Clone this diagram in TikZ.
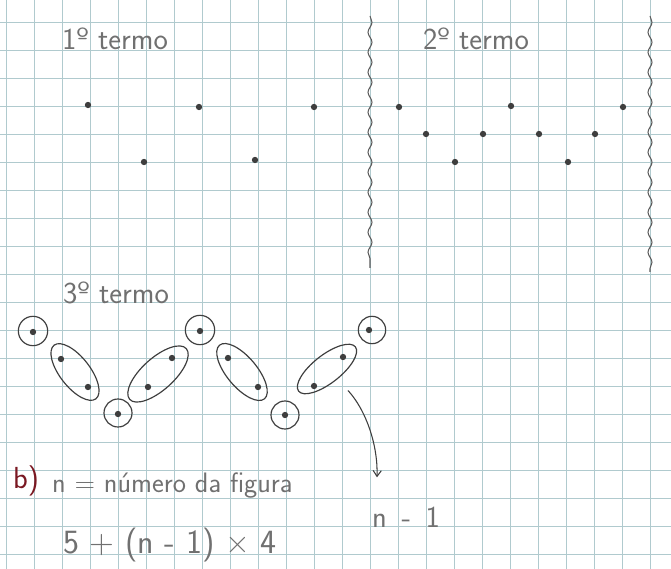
\documentclass[tikz,border=0pt]{standalone}
\usepackage{tikz}
\usetikzlibrary{shapes.geometric,arrows.meta,decorations.pathmorphing}
\definecolor{gridblue}{RGB}{176,202,206}
\definecolor{pencil}{RGB}{112,112,112}
\definecolor{lead}{RGB}{62,62,62}
\definecolor{redink}{RGB}{122,24,34}

\begin{document}
\begin{tikzpicture}[x=0.03cm, y=-0.03cm,
    every node/.style={font=\sffamily},
    gridln/.style={gridblue, line width=0.5pt},
    hand/.style={text=pencil, inner sep=0pt, font=\sffamily\fontsize{26}{30}\selectfont},
    dot/.style={circle, fill=lead, inner sep=0pt, minimum size=0.19cm},
    ring/.style={circle, draw=lead, line width=1pt, inner sep=0pt, minimum size=0.88cm},
    grp/.style={ellipse, draw=lead, line width=1pt, inner sep=0pt},
    wave/.style={lead!85, line width=0.9pt, decorate, decoration={snake, segment length=0.6cm, amplitude=0.06cm}},
    arr/.style={-{Straight Barb[length=5pt,width=7pt]}, lead, line width=0.9pt},
]

% ── Paper and grid ──
\fill[white] (0,0) rectangle (671,569);
\useasboundingbox (0,0) rectangle (671,569);
\foreach \gx in {6,34,...,650} \draw[gridln] (\gx,0) -- (\gx,569);
\foreach \gy in {22,50,...,554} \draw[gridln] (0,\gy) -- (671,\gy);

% ── Term 1 ──
\node[hand, anchor=base west] (t1) at (62,50) {1º termo};
\foreach \n/\px/\py in {a/88/105, b/199/107, c/314/107, d/144/162, e/255/160}
  \node[dot] (d1\n) at (\px,\py) {};

% ── Separators ──
\draw[wave] (370,16) -- (370,268);
\draw[wave] (650,16) -- (650,272);

% ── Term 2 ──
\node[hand, anchor=base west] (t2) at (423,50) {2º termo};
\foreach \n/\px/\py in {a/399/107, b/511/106, c/623/107, d/426/134, e/483/134, f/539/134, g/595/134, h/455/162, i/568/162}
  \node[dot] (d2\n) at (\px,\py) {};

% ── Term 3 ──
\node[hand, anchor=base west] (t3) at (63,303) {3º termo};
\foreach \n/\px/\py in {a/33/332, b/200/331, c/369/330, d/118/414, e/285/415,
                        f/61/359, g/88/387, h/172/358, i/148/387, j/228/358, k/258/387, l/343/357, m/314/386}
  \node[dot] (d3\n) at (\px,\py) {};
% single dots
\node[ring] (r1) at (33,331) {};
\node[ring] (r2) at (200,330) {};
\node[ring, minimum size=0.82cm] (r3) at (372,330) {};
\node[ring, minimum size=0.84cm] (r4) at (118,413) {};
\node[ring, minimum size=0.84cm] (r5) at (285,415) {};
% pairs
\node[grp, minimum width=2.04cm, minimum height=0.9cm, rotate=-52] (g1) at (75,372) {};
\node[grp, minimum width=2.28cm, minimum height=0.96cm, rotate=42] (g2) at (158,374) {};
\node[grp, minimum width=2.1cm, minimum height=0.9cm, rotate=-50] (g3) at (242,372) {};
\node[grp, minimum width=2.16cm, minimum height=0.84cm, rotate=38] (g4) at (327,369) {};

% ── Part b ──
\node[hand, text=redink, anchor=base west] (lb) at (13,488) {b)};
\node[hand, font=\sffamily\fontsize{24}{28}\selectfont, anchor=base west] (def) at (52,492) {n = número da figura};
\node[hand, font=\sffamily\fontsize{29}{33}\selectfont, anchor=base west] (form) at (63,553) {5 + (n - 1) × 4};
\node[hand, anchor=base west] (nm1) at (372,527) {n\, -\, 1};
\draw[arr] ([shift={(12,10)}]g4.south) .. controls (366,410) and (378,445) .. ([shift={(5,-29)}]nm1.north west);

\end{tikzpicture}
\end{document}
